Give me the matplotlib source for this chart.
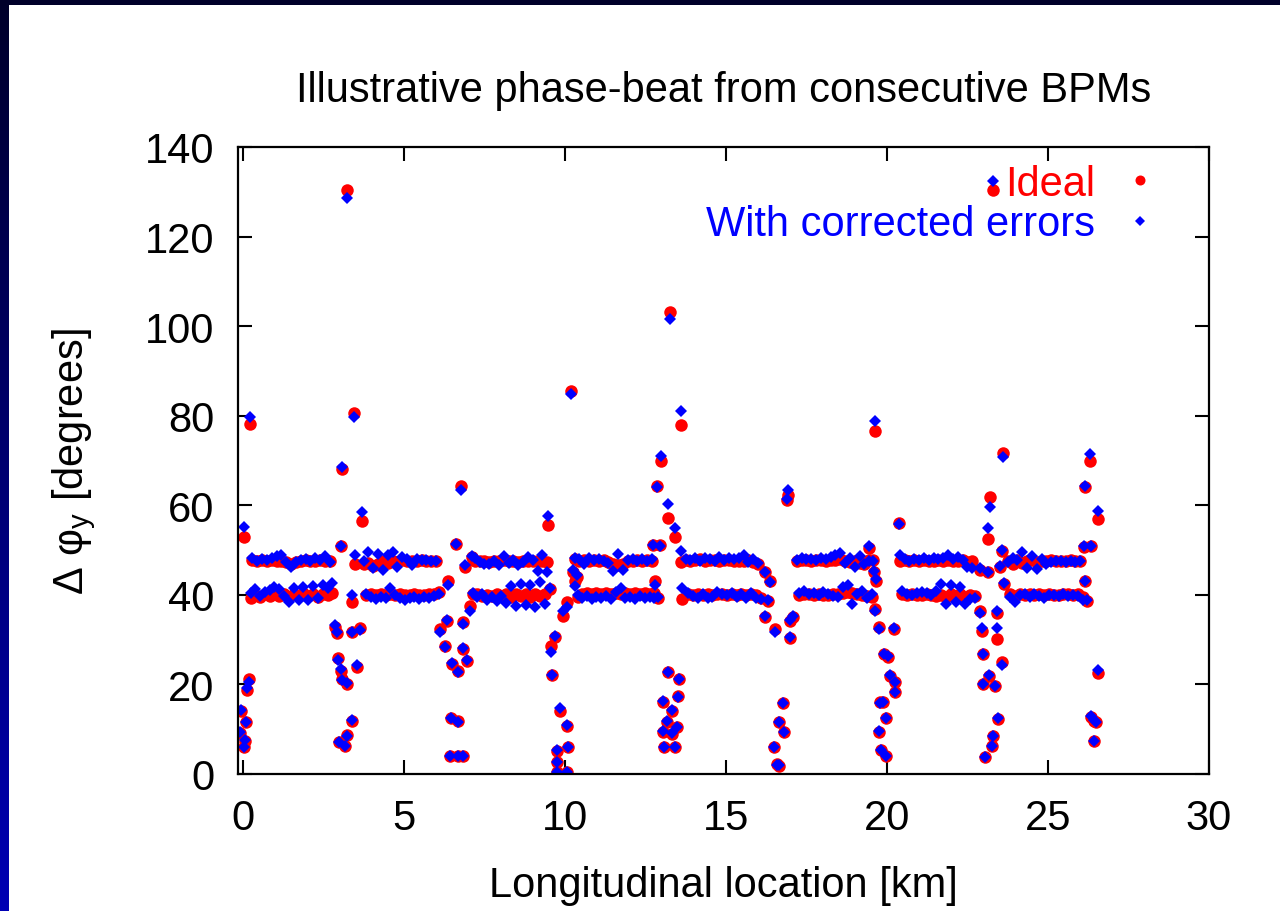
import numpy as np
import matplotlib.pyplot as plt
from matplotlib.patches import Rectangle

plt.rcParams['font.family'] = ['Liberation Sans', 'DejaVu Sans']
plt.rcParams['mathtext.default'] = 'regular'

# ---- data ----------------------------------------------------------------
# arc BPMs, upper branch (~48 deg)
s_up = [0.30, 0.45, 0.60, 0.75, 0.90, 1.05, 1.20, 1.35, 1.50, 1.65, 1.80, 1.95, 2.10, 2.25, 2.40, 2.55, 2.70,
        3.75, 3.90, 4.05, 4.20, 4.35, 4.50, 4.65, 4.80, 4.95, 5.10, 5.25, 5.40, 5.55, 5.70, 5.85, 6.00,
        7.20, 7.35, 7.50, 7.65, 7.80, 7.95, 8.10, 8.25, 8.40, 8.55, 8.70, 8.85, 9.00, 9.15, 9.30, 9.45,
        10.45, 10.60, 10.75, 10.90, 11.05, 11.20, 11.35, 11.50, 11.65, 11.80, 11.95, 12.10, 12.25, 12.40, 12.55, 12.70,
        13.75, 13.90, 14.05, 14.20, 14.35, 14.50, 14.65, 14.80, 14.95, 15.10, 15.25, 15.40, 15.55, 15.70, 15.85, 16.00,
        17.20, 17.35, 17.50, 17.65, 17.80, 17.95, 18.10, 18.25, 18.40, 18.55, 18.70, 18.85, 19.00, 19.15, 19.30, 19.45,
        20.40, 20.55, 20.70, 20.85, 21.00, 21.15, 21.30, 21.45, 21.60, 21.75, 21.90, 22.05, 22.20, 22.35, 22.50, 22.65,
        23.75, 23.90, 24.05, 24.20, 24.35, 24.50, 24.65, 24.80, 24.95, 25.10, 25.25, 25.40, 25.55, 25.70, 25.85, 26.00]
ideal_up = [47.7, 47.5, 47.8, 47.6, 47.7, 47.5, 47.6, 47.3, 47.0, 47.4, 47.6, 47.7, 47.5, 47.6, 47.7, 47.5, 47.6,
            46.8, 47.2, 46.5, 47.0, 47.5, 47.2, 47.6, 47.4, 47.7, 47.6, 47.5, 47.6, 47.7, 47.6, 47.6, 47.5,
            47.6, 47.5, 47.6, 47.4, 47.6, 47.5, 47.7, 47.5, 47.6, 47.4, 47.6, 47.5, 47.6, 47.5, 47.6, 47.4,
            47.5, 47.7, 47.6, 47.8, 47.6, 47.7, 47.3, 46.8, 46.6, 47.0, 47.6, 47.5, 47.7, 47.6, 47.7, 47.6,
            47.8, 47.6, 47.7, 47.9, 47.6, 47.7, 47.8, 47.5, 47.7, 47.8, 47.6, 47.5, 47.6, 47.7, 47.4, 46.9,
            47.6, 47.8, 47.7, 47.6, 47.8, 47.7, 47.6, 47.8, 47.7, 47.9, 47.6, 47.4, 47.6, 47.2, 46.8, 47.7,
            47.6, 47.7, 47.5, 47.8, 47.6, 47.7, 47.5, 47.6, 47.8, 47.6, 47.7, 47.5, 47.6, 47.7, 47.4, 47.5,
            47.6, 47.0, 47.8, 47.2, 47.6, 47.7, 47.4, 47.6, 47.5, 47.7, 47.6, 47.5, 47.6, 47.7, 47.6, 47.5]
corr_up = [48.2, 47.6, 48.1, 47.7, 48.3, 48.6, 49.0, 47.4, 46.3, 47.3, 47.8, 48.0, 47.6, 48.2, 47.8, 48.7, 47.4,
           47.6, 49.5, 46.0, 49.2, 45.5, 48.9, 49.6, 46.2, 48.4, 47.9, 46.6, 48.0, 47.7, 47.7, 47.5, 47.6,
           48.2, 47.4, 47.0, 46.8, 47.5, 46.6, 48.6, 47.2, 47.8, 46.7, 47.3, 48.4, 47.7, 45.3, 48.9, 45.2,
           48.1, 47.0, 48.3, 47.8, 48.0, 47.6, 47.2, 45.3, 49.1, 45.6, 47.8, 48.1, 47.5, 47.9, 47.6, 48.0,
           48.0, 47.8, 48.2, 47.5, 48.3, 48.0, 47.6, 48.4, 47.7, 48.2, 47.9, 48.3, 48.8, 47.4, 48.0, 47.2,
           47.8, 48.3, 47.9, 48.0, 47.7, 48.2, 47.9, 48.4, 48.9, 49.4, 47.2, 48.3, 46.2, 48.6, 46.9, 47.5,
           49.0, 47.9, 47.6, 48.0, 47.7, 48.2, 47.8, 48.3, 47.9, 48.2, 49.0, 48.0, 48.4, 47.8, 46.3, 46.0,
           47.3, 48.2, 47.8, 49.5, 46.0, 48.6, 45.8, 47.9, 47.0, 47.3, 47.5, 47.6, 47.4, 47.5, 47.3, 47.6]

# arc BPMs, lower branch (~40 deg)
s_low = [0.38, 0.53, 0.68, 0.83, 0.98, 1.13, 1.28, 1.43, 1.58, 1.73, 1.88, 2.03, 2.18, 2.33, 2.48, 2.63, 2.78,
         3.83, 3.98, 4.13, 4.28, 4.43, 4.58, 4.73, 4.88, 5.03, 5.18, 5.33, 5.48, 5.63, 5.78, 5.93, 6.08,
         7.28, 7.43, 7.58, 7.73, 7.88, 8.03, 8.18, 8.33, 8.48, 8.63, 8.78, 8.93, 9.08, 9.23, 9.38, 9.53,
         10.53, 10.68, 10.83, 10.98, 11.13, 11.28, 11.43, 11.58, 11.73, 11.88, 12.03, 12.18, 12.33, 12.48, 12.63, 12.78,
         13.83, 13.98, 14.13, 14.28, 14.43, 14.58, 14.73, 14.88, 15.03, 15.18, 15.33, 15.48, 15.63, 15.78, 15.93, 16.08,
         17.28, 17.43, 17.58, 17.73, 17.88, 18.03, 18.18, 18.33, 18.48, 18.63, 18.78, 18.93, 19.08, 19.23, 19.38, 19.53,
         20.48, 20.63, 20.78, 20.93, 21.08, 21.23, 21.38, 21.53, 21.68, 21.83, 21.98, 22.13, 22.28, 22.43, 22.58, 22.73,
         23.83, 23.98, 24.13, 24.28, 24.43, 24.58, 24.73, 24.88, 25.03, 25.18, 25.33, 25.48, 25.63, 25.78, 25.93, 26.08]
ideal_low = [40.0, 39.6, 40.2, 39.8, 40.3, 39.7, 40.1, 39.5, 40.2, 39.8, 40.4, 39.7, 40.1, 39.6, 40.3, 40.0, 40.5,
             40.0, 40.1, 40.0, 40.2, 40.0, 40.1, 40.0, 40.1, 40.0, 40.0, 40.1, 40.0, 40.0, 40.1, 40.2, 40.6,
             40.1, 39.8, 40.0, 39.7, 40.2, 39.8, 40.1, 39.6, 40.3, 39.7, 40.2, 39.6, 40.3, 39.7, 40.1, 41.2,
             40.3, 40.5, 40.2, 40.4, 40.3, 40.5, 40.1, 40.4, 40.3, 40.5, 40.2, 40.4, 40.3, 40.5, 40.2, 40.4,
             40.2, 40.0, 40.1, 39.9, 40.1, 40.0, 40.2, 40.1, 40.0, 40.1, 39.9, 40.2, 40.0, 40.1, 39.9, 39.4,
             40.0, 40.2, 40.1, 40.0, 40.1, 39.9, 40.0, 40.2, 40.3, 40.5, 40.6, 40.4, 40.2, 40.0, 39.8, 39.6,
             40.2, 40.0, 40.1, 39.9, 40.0, 40.1, 40.0, 39.8, 40.0, 39.6, 40.3, 39.7, 40.2, 39.6, 40.0, 39.8,
             40.1, 39.8, 40.2, 40.0, 40.1, 39.9, 40.2, 40.0, 40.1, 39.9, 40.0, 40.2, 40.1, 39.9, 40.1, 39.6]
corr_low = [41.3, 39.8, 40.6, 41.0, 41.8, 41.2, 39.7, 38.5, 41.5, 38.9, 41.7, 38.8, 42.0, 39.4, 42.3, 41.5, 42.6,
            40.2, 39.5, 39.0, 39.6, 39.2, 41.5, 40.0, 39.4, 38.9, 39.3, 39.6, 39.1, 39.5, 39.2, 39.8, 40.3,
            39.6, 40.3, 38.8, 39.5, 38.6, 39.8, 38.2, 42.0, 37.6, 42.5, 37.8, 42.3, 37.4, 42.8, 38.0, 41.5,
            39.4, 39.8, 39.1, 39.6, 39.2, 39.7, 39.0, 40.6, 41.6, 39.3, 39.5, 39.0, 39.8, 39.4, 39.6, 39.2,
            40.5, 39.8, 39.2, 40.3, 39.3, 39.6, 40.6, 40.3, 39.9, 40.5, 39.6, 40.2, 39.4, 40.4, 39.2, 39.0,
            40.5, 40.8, 40.2, 40.4, 40.0, 40.6, 40.1, 39.8, 39.5, 41.8, 42.3, 38.0, 40.3, 40.9, 39.4, 40.1,
            40.9, 40.3, 39.9, 40.4, 40.7, 40.5, 40.0, 40.8, 42.5, 37.9, 42.2, 38.3, 41.8, 38.0, 39.0, 39.4,
            39.5, 38.3, 39.9, 40.1, 39.6, 40.2, 39.8, 39.4, 39.9, 40.0, 39.7, 40.1, 39.8, 40.0, 39.7, 38.9]

# insertion BPMs around the IPs
s_ir = [-0.06, 0.09, -0.09, 0.06, 0.03, 0.12, 0.20, 0.03, 0.22, 0.25,
        2.86, 2.92, 2.95, 3.06, 3.09, 3.22, 2.99, 3.22, 3.18, 3.40, 3.54, 3.64, 3.39, 3.39, 3.06, 3.48, 3.22, 3.09, 3.45, 3.70,
        6.37, 6.34, 6.12, 6.27, 6.49, 6.68, 6.83, 6.96, 6.85, 7.05, 7.14, 6.46, 6.68, 6.43, 6.68, 6.83, 6.61, 6.89, 7.11, 6.77,
        9.47, 10.06, 9.94, 9.69, 9.56, 9.60, 9.84, 10.06, 10.09, 9.75, 9.75, 9.75, 10.06, 10.19, 10.31, 10.25, 10.37, 10.31, 10.40,
        12.73, 12.95, 12.80, 12.90, 12.86, 12.98, 13.26, 13.20, 13.42, 13.60, 13.20, 13.54, 13.50, 13.04, 13.33, 13.17,
        13.04, 13.48, 13.33, 13.07, 13.42, 13.65, 13.62,
        16.21, 16.37, 16.30, 16.21, 16.52, 16.99, 17.08, 16.99, 16.77, 16.65, 16.80, 16.50, 16.60, 16.66, 16.90, 16.93,
        19.44, 19.57, 19.60, 19.67, 19.62, 19.75, 20.22, 19.91, 20.03, 20.09, 20.25, 20.25, 19.88, 19.78, 19.97, 19.75,
        19.81, 19.97, 19.63, 20.38,
        23.14, 22.90, 23.14, 22.89, 23.42, 22.95, 23.42, 22.98, 23.57, 23.17, 22.98, 23.35, 23.45, 23.29, 23.26, 23.04,
        23.29, 23.20, 23.60, 23.57, 23.50, 23.64,
        26.12, 26.34, 26.15, 26.21, 26.55, 26.42, 26.50, 26.42, 26.35, 26.16, 26.30, 26.55]
ideal_ir = [14.0, 11.7, 9.2, 7.4, 6.0, 18.8, 21.3, 53.0, 78.2, 39.2,
            32.8, 31.4, 25.8, 23.0, 21.3, 20.0, 7.2, 8.6, 6.2, 11.8, 24.0, 32.6, 31.6, 38.4, 50.8, 46.8, 130.4, 68.2, 80.7, 56.6,
            43.1, 34.2, 32.4, 28.6, 24.5, 23.0, 27.9, 25.2, 34.0, 37.5, 40.2, 12.5, 11.8, 4.0, 4.0, 4.0, 51.3, 46.3, 48.5, 64.4,
            55.5, 38.5, 35.3, 30.5, 28.6, 22.2, 14.1, 10.8, 6.0, 5.1, 2.7, 0.4, 0.4, 85.5, 48.0, 45.0, 44.0, 43.0, 39.5,
            51.1, 51.1, 43.0, 39.2, 64.4, 70.0, 103.2, 57.1, 53.0, 78.0, 22.8, 21.3, 17.5, 16.1, 14.1, 11.6,
            9.4, 10.5, 9.0, 6.0, 6.0, 39.1, 47.4,
            45.1, 43.0, 38.6, 35.0, 32.4, 34.2, 35.0, 30.4, 15.8, 11.6, 9.4, 6.0, 2.2, 1.8, 61.2, 62.3,
            50.4, 47.7, 45.1, 43.2, 36.9, 32.9, 32.4, 26.8, 26.1, 21.9, 20.5, 18.3, 16.1, 16.0, 12.5, 9.4,
            5.4, 4.0, 76.6, 56.0,
            52.5, 45.6, 45.0, 36.4, 36.0, 32.0, 30.2, 26.8, 25.0, 21.9, 20.1, 19.6, 12.3, 8.5, 6.3, 3.8,
            130.4, 61.8, 71.7, 49.8, 46.2, 42.5,
            50.6, 50.9, 43.0, 38.6, 22.5, 11.9, 11.7, 7.4, 12.8, 64.0, 70.0, 57.0]
corr_ir = [14.2, 11.6, 9.4, 7.6, 6.1, 19.3, 20.6, 55.2, 79.7, 40.5,
           33.2, 31.6, 25.4, 23.4, 21.0, 20.4, 7.2, 8.5, 6.3, 12.0, 24.4, 32.2, 31.8, 40.0, 50.9, 48.9, 128.6, 68.5, 79.7, 58.6,
           42.2, 34.4, 31.8, 28.3, 24.8, 22.8, 28.2, 25.4, 33.6, 36.5, 40.4, 12.6, 11.7, 4.1, 4.0, 4.0, 51.4, 46.6, 48.6, 63.4,
           57.5, 37.4, 36.4, 30.9, 27.3, 22.2, 14.8, 10.9, 6.1, 5.3, 2.6, 0.5, 0.4, 84.9, 48.2, 45.5, 44.5, 42.0, 40.0,
           51.1, 51.0, 42.2, 39.6, 64.0, 71.1, 101.7, 60.2, 55.0, 81.0, 22.7, 21.2, 17.3, 16.2, 14.3, 11.8,
           9.6, 10.4, 9.2, 6.1, 6.0, 41.5, 49.8,
           45.2, 42.8, 38.8, 35.3, 31.8, 34.3, 35.3, 30.7, 15.9, 11.6, 9.4, 6.1, 2.0, 1.9, 61.3, 63.4,
           50.8, 47.5, 45.4, 43.6, 36.5, 32.4, 32.5, 26.9, 26.3, 22.0, 20.6, 18.4, 16.0, 15.9, 12.6, 9.5,
           5.3, 4.1, 78.9, 55.9,
           55.0, 45.9, 45.2, 36.0, 36.5, 32.7, 32.5, 26.9, 24.4, 22.0, 20.2, 19.7, 12.4, 8.4, 6.2, 3.7,
           132.4, 59.6, 70.8, 50.0, 46.4, 42.6,
           50.8, 51.0, 43.2, 38.8, 23.3, 12.0, 11.6, 7.4, 13.0, 64.2, 71.4, 58.8]

s_all = s_up + s_low + s_ir
ideal_all = ideal_up + ideal_low + ideal_ir
corr_all = corr_up + corr_low + corr_ir

# ---- figure ---------------------------------------------------------------
fig = plt.figure(figsize=(12.8, 9.12), dpi=100)

# slide background: dark blue gradient frame on the left and top
bg = fig.add_axes([0, 0, 1, 1])
grad = np.linspace(0, 1, 256).reshape(-1, 1)
bg.imshow(grad, aspect='auto', extent=[0, 1, 0, 1], origin='upper',
          cmap=plt.matplotlib.colors.LinearSegmentedColormap.from_list('slide', ['#00002a', '#0000b4']))
bg.add_patch(Rectangle((9 / 1280, 0), 1, 1 - 6 / 912, transform=bg.transAxes,
                       facecolor='white', edgecolor='none'))
bg.set_xlim(0, 1)
bg.set_ylim(0, 1)
bg.axis('off')

ax = fig.add_axes([238 / 1280, 1 - 775 / 912, (1209 - 238) / 1280, (775 - 148) / 912])
ax.plot(s_all, ideal_all, linestyle='none', marker='o', ms=9.0, mfc='red', mec='red',
        mew=0, label='Ideal')
ax.plot(s_all, corr_all, linestyle='none', marker='D', ms=6.3, mfc='blue', mec='blue',
        mew=0, label='With corrected errors')

ax.set_xlim(-0.15, 30)
ax.set_ylim(0, 140)
ax.set_xticks([0, 5, 10, 15, 20, 25, 30])
ax.set_yticks([0, 20, 40, 60, 80, 100, 120, 140])
ax.tick_params(direction='in', top=True, right=True, length=10, width=1.5,
               labelsize=30, pad=17)
for sp in ax.spines.values():
    sp.set_linewidth(1.6)

ax.set_title('Illustrative phase-beat from consecutive BPMs', fontsize=30, pad=33)
ax.set_xlabel('Longitudinal location [km]', fontsize=30, labelpad=20)
ax.set_ylabel('Δ φ$_y$ [degrees]', fontsize=30, labelpad=34)

leg = ax.legend(loc='upper right', bbox_to_anchor=(1 - 31 / 971, 1.0), frameon=False,
                markerfirst=False, fontsize=30, handlelength=1.0, handletextpad=0.6,
                labelspacing=0.02, borderaxespad=0.0, markerscale=0.8, numpoints=1)
for txt, col in zip(leg.get_texts(), ['red', 'blue']):
    txt.set_color(col)

fig.savefig('out.png', dpi=100)
